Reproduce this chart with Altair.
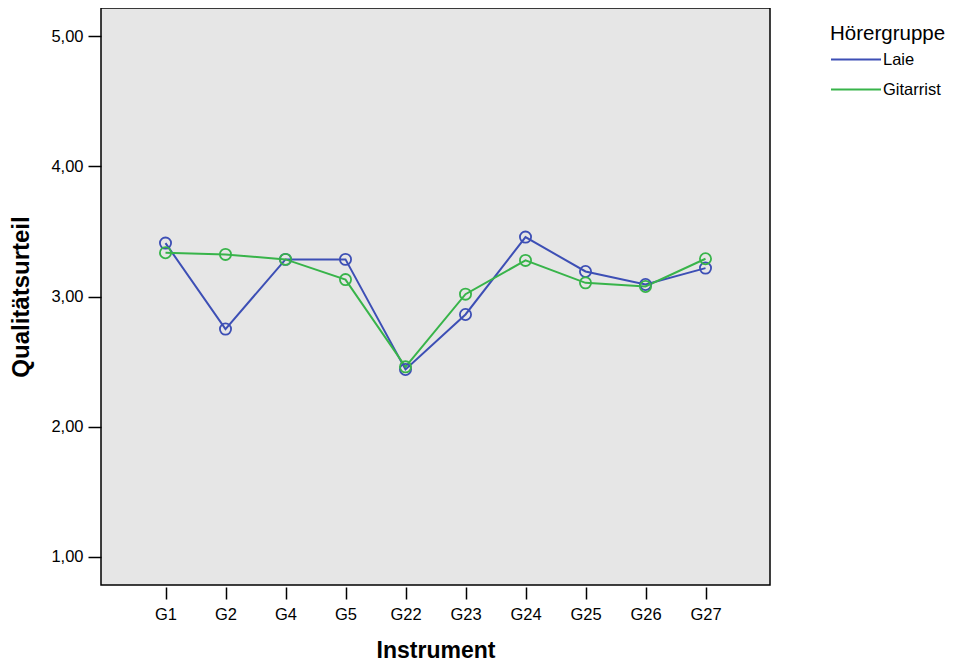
import altair as alt
import pandas as pd

instruments = ["G1", "G2", "G4", "G5", "G22", "G23", "G24", "G25", "G26", "G27"]
groups = ["Laie", "Gitarrist"]
laie = [3.41, 2.75, 3.285, 3.285, 2.44, 2.862, 3.456, 3.192, 3.092, 3.218]
gitarrist = [3.336, 3.323, 3.285, 3.13, 2.46, 3.018, 3.277, 3.105, 3.077, 3.29]
colors = ["#3D4FB5", "#38B44A"]

rows = []
for g, vals in zip(groups, [laie, gitarrist]):
    for i, (inst, v) in enumerate(zip(instruments, vals)):
        rows.append({"Instrument": inst, "idx": i, "Hörergruppe": g, "Wert": v})
df = pd.DataFrame(rows)

FONT = "Liberation Sans"
W, H = 669, 577
STEP = W / (len(instruments) - 1 + 2 * 1.075)
PAD = 1.075 * STEP

x = alt.X("Instrument:N", sort=instruments,
          scale=alt.Scale(type="point", padding=0, range=[PAD, W - PAD]),
          axis=alt.Axis(title="Instrument", labelAngle=0, domain=False, grid=False,
                        offset=2, tickSize=12, tickColor="black", tickWidth=1.5,
                        labelPadding=7, labelFontSize=16.5, labelColor="black", labelFont=FONT,
                        titleFont=FONT, titleFontSize=23, titleFontWeight="bold",
                        titleColor="black", titlePadding=17))
y = alt.Y("Wert:Q", scale=alt.Scale(domain=[0.785, 5.215], nice=False, zero=False),
          axis=alt.Axis(title="Qualitätsurteil", values=[1, 2, 3, 4, 5], domain=False,
                        grid=False, tickSize=13, tickColor="black", tickWidth=1.5,
                        labelPadding=5, labelFontSize=16.5, labelColor="black", labelFont=FONT,
                        labelExpr="replace(format(datum.value, '.2f'), '.', ',')",
                        titleFont=FONT, titleFontSize=24, titleFontWeight="bold",
                        titleColor="black", titlePadding=17))
color = alt.Color("Hörergruppe:N", sort=groups,
                  scale=alt.Scale(domain=groups, range=colors),
                  legend=alt.Legend(orient="none", legendX=729, legendY=16, padding=0,
                                    symbolType="M-2.5,0H2.5", symbolSize=400,
                                    symbolOffset=15, symbolStrokeWidth=2,
                                    labelOffset=16, rowPadding=10, titlePadding=4,
                                    titleFont=FONT, titleFontSize=20.5,
                                    titleFontWeight="normal", titleColor="black",
                                    labelFont=FONT, labelFontSize=16.5, labelColor="black"))

lines = alt.Chart(df).mark_line(strokeWidth=2).encode(x=x, y=y, color=color,
                                                       order=alt.Order("idx:Q"))
points = alt.Chart(df).mark_point(shape="circle", filled=False, size=125,
                                  strokeWidth=1.8, opacity=1).encode(
    x=x, y=y, color=alt.Color("Hörergruppe:N", sort=groups,
                              scale=alt.Scale(domain=groups, range=colors), legend=None))

chart = alt.layer(lines, points).properties(
    width=W, height=H,
    autosize=alt.AutoSizeParams(type="none"),
    padding={"left": 93, "top": 0, "right": 176, "bottom": 77},
    background="white",
).configure_view(fill="#E6E6E6", stroke="black", strokeWidth=1.5)

chart.save("out.html", embed_options={"renderer": "svg", "actions": False})
